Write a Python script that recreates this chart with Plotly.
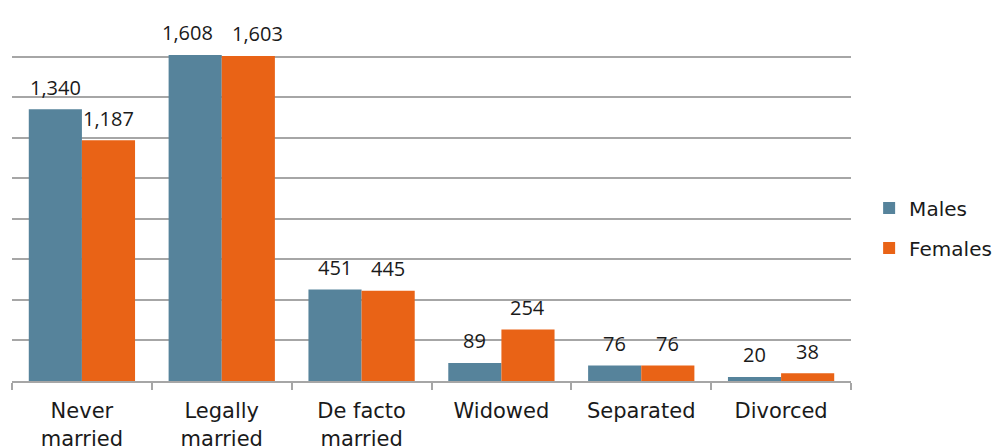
import plotly.graph_objects as go

categories = ["Never<br>married", "Legally<br>married", "De facto<br>married", "Widowed", "Separated", "Divorced"]
males = [1340, 1608, 451, 89, 76, 20]
females = [1187, 1603, 445, 254, 76, 38]
y_ticks = [0, 200, 400, 600, 800, 1000, 1200, 1400, 1600, 1800]

MALE_COLOR = "#56839B"
FEMALE_COLOR = "#E96316"
FONT = "DejaVu Sans"
LABEL_FONT = "Open Sans"
TEXT_COLOR = "#1a1a1a"

fig = go.Figure()
series = [("Males", males, MALE_COLOR, -26.5), ("Females", females, FEMALE_COLOR, 26.5)]
for name, vals, color, _ in series:
    fig.add_trace(go.Bar(
        name=name, x=categories, y=vals, legendgroup=name,
        marker=dict(color=color, line=dict(width=0)),
    ))

# value labels centred above each bar; tall neighbouring labels are nudged apart
for name, vals, color, dx in series:
    for i, (cat, v) in enumerate(zip(categories, vals)):
        nudge = 0
        if min(males[i], females[i]) >= 1000 and abs(males[i] - females[i]) < 100:
            nudge = -8 if dx < 0 else 9
        fig.add_annotation(
            x=cat, y=v, text=f"{v:,}", showarrow=False,
            xshift=dx + nudge, yshift=22, yanchor="middle",
            font=dict(family=LABEL_FONT, size=20, color=TEXT_COLOR),
        )

fig.update_layout(
    width=992, height=446,
    margin=dict(l=12, r=141, t=16, b=65, autoexpand=False),
    paper_bgcolor="white", plot_bgcolor="white",
    barmode="group", bargap=0.24, bargroupgap=0,
    font=dict(family=FONT, size=20, color=TEXT_COLOR),
    showlegend=True,
    legend=dict(x=1.0216, xanchor="left", y=0.4195, yanchor="middle",
                font=dict(family=FONT, size=20, color=TEXT_COLOR),
                traceorder="grouped", itemwidth=30, tracegroupgap=11),
)
fig.update_xaxes(
    showline=True, linecolor="#a6a6a6", linewidth=2,
    ticks="outside", tickson="boundaries", ticklen=7, tickcolor="#a6a6a6", tickwidth=2,
    tickfont=dict(family=FONT, size=21, color=TEXT_COLOR),
    ticklabelstandoff=10,
    showgrid=False,
)
fig.update_yaxes(
    range=[0, 1800], tickvals=y_ticks, showticklabels=False,
    showgrid=True, gridcolor="#a6a6a6", gridwidth=1.5,
    zeroline=False, showline=False,
)

fig.write_html("out.html")
